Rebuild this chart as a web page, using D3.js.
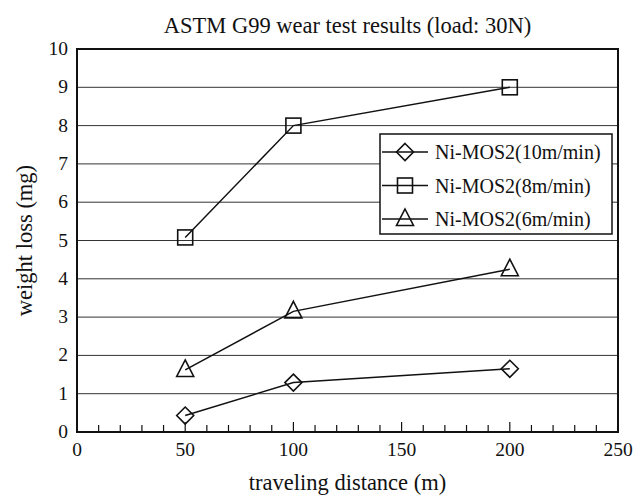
<!DOCTYPE html>
<html>
<head>
<meta charset="utf-8">
<script src="https://cdn.jsdelivr.net/npm/d3@7"></script>
<style>
  body { margin: 0; background: #fff; }
  text { font-family: "Liberation Serif", "Times New Roman", serif; fill: #111; }
</style>
</head>
<body>
<div id="chart"></div>
<script>
// data
const distances = [50, 100, 200];
const lossFast = [0.43, 1.29, 1.65];   // Ni-MOS2(10m/min), diamond
const lossMid = [5.08, 8.0, 9.0];      // Ni-MOS2(8m/min), square
const lossSlow = [1.62, 3.15, 4.25];   // Ni-MOS2(6m/min), triangle
const seriesNames = ["Ni-MOS2(10m/min)", "Ni-MOS2(8m/min)", "Ni-MOS2(6m/min)"];
const xTicks = [0, 50, 100, 150, 200, 250];
const yTicks = [0, 1, 2, 3, 4, 5, 6, 7, 8, 9, 10];

const width = 643, height = 498;
const margin = { top: 49, right: 25, bottom: 66, left: 77 };

const svg = d3.select("#chart").append("svg")
  .attr("width", width)
  .attr("height", height);

const x = d3.scaleLinear().domain([0, 250]).range([margin.left, width - margin.right]);
const y = d3.scaleLinear().domain([0, 10]).range([height - margin.bottom, margin.top]);

// horizontal grid lines
svg.append("g")
  .selectAll("line")
  .data(yTicks.slice(1, -1))
  .join("line")
  .attr("x1", x(0)).attr("x2", x(250))
  .attr("y1", d => y(d)).attr("y2", d => y(d))
  .attr("stroke", "#333")
  .attr("stroke-width", 1);

// x ticks, pointing into the plot (minor every 10, major every 50)
const xMinor = d3.range(10, 250, 10);
svg.append("g")
  .selectAll("line")
  .data(xMinor)
  .join("line")
  .attr("x1", d => x(d)).attr("x2", d => x(d))
  .attr("y1", y(0))
  .attr("y2", d => y(0) - (d % 50 === 0 ? 10 : 7))
  .attr("stroke", "#111")
  .attr("stroke-width", 1.2);

// tick labels
svg.append("g")
  .selectAll("text")
  .data(xTicks)
  .join("text")
  .attr("x", d => x(d))
  .attr("y", y(0) + 24)
  .attr("text-anchor", "middle")
  .attr("font-size", 19.5)
  .text(d => d);

svg.append("g")
  .selectAll("text")
  .data(yTicks)
  .join("text")
  .attr("x", x(0) - 9)
  .attr("y", d => y(d) + 6)
  .attr("text-anchor", "end")
  .attr("font-size", 19.5)
  .text(d => d);

// series
const series = [
  { name: seriesNames[0], values: lossFast, symbol: "diamond" },
  { name: seriesNames[1], values: lossMid, symbol: "square" },
  { name: seriesNames[2], values: lossSlow, symbol: "triangle" }
];

function marker(g, kind) {
  if (kind === "diamond") {
    g.append("path").attr("d", "M0,-8.5L8.5,0L0,8.5L-8.5,0Z");
  } else if (kind === "square") {
    g.append("rect").attr("x", -7.5).attr("y", -7.5).attr("width", 15).attr("height", 15);
  } else {
    g.append("path").attr("d", "M0,-10L8.5,6.5L-8.5,6.5Z");
  }
  g.selectAll("*").attr("fill", "none").attr("stroke", "#111").attr("stroke-width", 1.6);
}

const line = d3.line()
  .x((d, i) => x(distances[i]))
  .y(d => y(d));

series.forEach(s => {
  svg.append("path")
    .datum(s.values)
    .attr("d", line)
    .attr("fill", "none")
    .attr("stroke", "#111")
    .attr("stroke-width", 1.5);

  s.values.forEach((v, i) => {
    const g = svg.append("g").attr("transform", `translate(${x(distances[i])},${y(v)})`);
    marker(g, s.symbol);
  });
});

// plot frame
svg.append("rect")
  .attr("x", x(0)).attr("y", y(10))
  .attr("width", x(250) - x(0))
  .attr("height", y(0) - y(10))
  .attr("fill", "none")
  .attr("stroke", "#111")
  .attr("stroke-width", 2);

// legend
const legend = svg.append("g");
legend.append("rect")
  .attr("x", 380).attr("y", 134)
  .attr("width", 232).attr("height", 100)
  .attr("fill", "#fff")
  .attr("stroke", "#111")
  .attr("stroke-width", 1.5);

series.forEach((s, i) => {
  const cy = 152 + i * 33.5;
  legend.append("line")
    .attr("x1", 382).attr("x2", 428)
    .attr("y1", cy).attr("y2", cy)
    .attr("stroke", "#111").attr("stroke-width", 1.5);
  const g = legend.append("g").attr("transform", `translate(405,${cy})`);
  marker(g, s.symbol);
  legend.append("text")
    .attr("x", 435).attr("y", cy + 7)
    .attr("font-size", 20)
    .text(s.name);
});

// titles
svg.append("text")
  .attr("x", (x(0) + x(250)) / 2)
  .attr("y", 33)
  .attr("text-anchor", "middle")
  .attr("font-size", 22.5)
  .text("ASTM G99 wear test results (load: 30N)");

svg.append("text")
  .attr("x", (x(0) + x(250)) / 2)
  .attr("y", 490)
  .attr("text-anchor", "middle")
  .attr("font-size", 22.5)
  .text("traveling distance (m)");

svg.append("text")
  .attr("transform", `translate(32,${(y(0) + y(10)) / 2}) rotate(-90)`)
  .attr("text-anchor", "middle")
  .attr("font-size", 22.5)
  .text("weight loss (mg)");
</script>
</body>
</html>
